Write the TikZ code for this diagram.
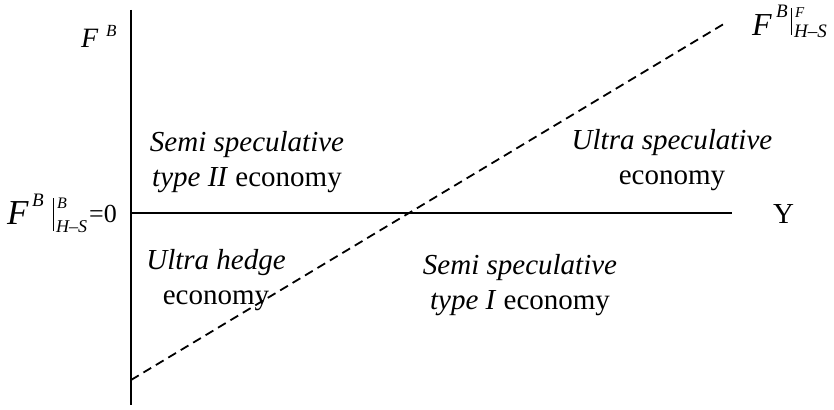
\documentclass[tikz,border=0pt]{standalone}
\usepackage{fontspec}
\setmainfont{Liberation Serif}
\newcommand{\fs}[1]{\fontsize{#1}{#1}\selectfont}
\begin{document}
\begin{tikzpicture}[x=1pt,y=-1pt,
  lbl/.style={font=\fontsize{29}{35}\selectfont, align=center, inner sep=0pt},
  sym/.style={inner sep=0pt, anchor=base west},
  axis/.style={line width=2pt},
  barline/.style={line width=1pt},
  dline/.style={line width=1.8pt, dash pattern=on 9pt off 5.5pt}]
\useasboundingbox (0,0) rectangle (834,409);
\coordinate (vtop) at (131,10);
\coordinate (vbot) at (131,405);
\coordinate (o) at (131,213);
\coordinate (hend) at (732,213);
\coordinate (ds) at (131,380);
\coordinate (de) at (727,22);
\draw[axis] (vtop) -- (vbot);
\draw[axis] (o) -- (hend);
\draw[dline] (ds) -- (de);
% top-left label F^B
\node[sym, font=\fs{28}\itshape] (tF) at (81,48) {F};
\node[sym, font=\fs{17}\itshape] (tB) at (106,37) {B};
% left label
\node[sym, font=\fs{35}\itshape] (lF) at (7,224) {F};
\node[sym, font=\fs{19}\itshape] (lB) at (32,206) {B};
\coordinate (lb1) at (53,198);
\coordinate (lb2) at (53,231);
\draw[barline] (lb1) -- (lb2);
\node[sym, font=\fs{16}\itshape] (lB2) at (57,208) {B};
\node[sym, font=\fs{18}\itshape] (lHS) at (56,232) {H–S};
\node[sym, font=\fs{26}] (leq) at (89,222) {=0};
% right label
\node[sym, font=\fs{32}\itshape] (rF) at (752,36) {F};
\node[sym, font=\fs{19}\itshape] (rB) at (776,18) {B};
\coordinate (rb1) at (791,8);
\coordinate (rb2) at (791,35);
\draw[barline] (rb1) -- (rb2);
\node[sym, font=\fs{15}\itshape] (rF2) at (795,18) {F};
\node[sym, font=\fs{19}\itshape] (rHS) at (794,38) {H–S};
\node[sym, font=\fs{29}] (y) at (773,223) {Y};
\node[lbl] (s2) at (247,162) {\textit{Semi speculative}\\\textit{type II} economy};
\node[lbl] (us) at (672,160) {\textit{Ultra speculative}\\economy};
\node[lbl] (uh) at (216,280) {\textit{Ultra hedge}\\economy};
\node[lbl] (s1) at (520,285) {\textit{Semi speculative}\\\textit{type I} economy};
\end{tikzpicture}
\end{document}
